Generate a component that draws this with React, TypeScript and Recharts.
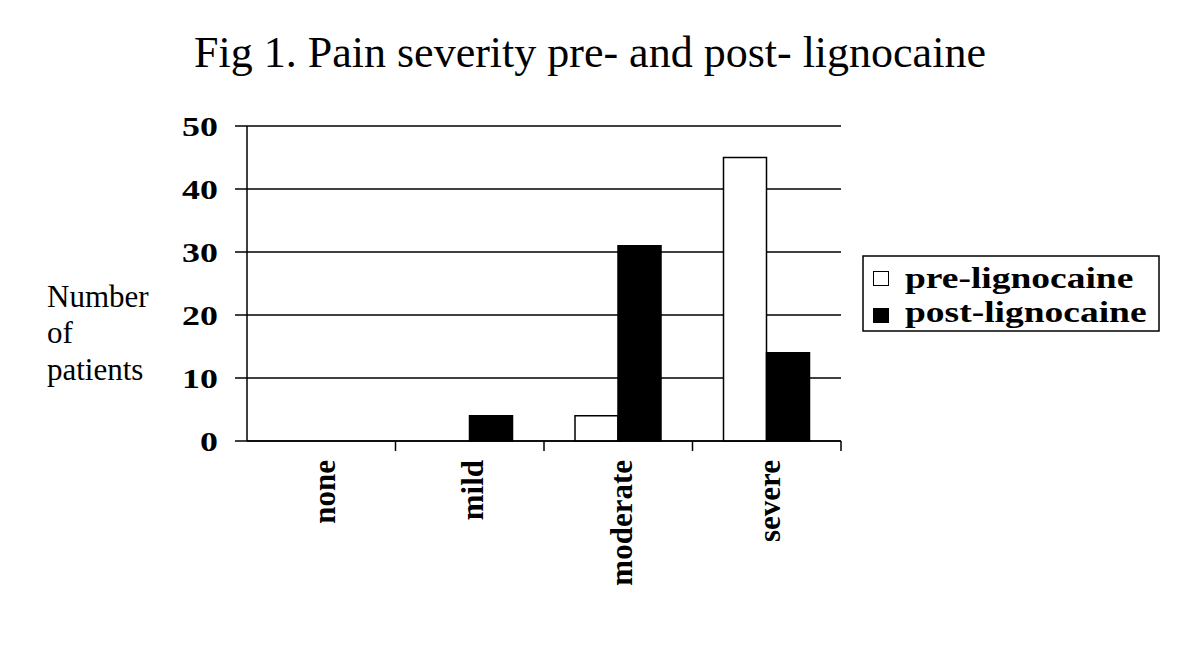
import { BarChart, Bar, XAxis, YAxis, CartesianGrid } from 'recharts';

// data
const categories = ['none', 'mild', 'moderate', 'severe'];
const preLignocaine = [0, 0, 4, 45];
const postLignocaine = [0, 4, 31, 14];
const yTicks = [0, 10, 20, 30, 40, 50];

const data = categories.map((name, i) => ({
  name,
  'pre-lignocaine': preLignocaine[i],
  'post-lignocaine': postLignocaine[i],
}));

const SERIF = '"Liberation Serif", "Times New Roman", serif';
const PLOT_LEFT = 247;
const PLOT_RIGHT = 841;
const BAND = (PLOT_RIGHT - PLOT_LEFT) / categories.length;

// y tick labels are stretched sideways in the original
const YTick = (props: any) => {
  const { x, y, payload } = props;
  return (
    <text
      transform={`translate(${x},${y + 1.5}) scale(1.33,1)`}
      textAnchor="end"
      dominantBaseline="central"
      fontFamily={SERIF}
      fontWeight="bold"
      fontSize={27}
      fill="#000"
    >
      {payload.value}
    </text>
  );
};

// tick marks sit between categories, labels rotated
const XTick = (props: any) => {
  const { x, y, payload } = props;
  const axisY = y - 19;
  return (
    <g>
      <line x1={x + BAND / 2} x2={x + BAND / 2} y1={axisY} y2={axisY + 10} stroke="#000" strokeWidth={1.5} />
      <text
        transform={`translate(${x + 3},${y}) rotate(-90)`}
        textAnchor="end"
        dominantBaseline="central"
        fontFamily={SERIF}
        fontWeight="bold"
        fontSize={31}
        fill="#000"
      >
        {payload.value}
      </text>
    </g>
  );
};

const legendItems = [
  { label: 'pre-lignocaine', fill: '#fff' },
  { label: 'post-lignocaine', fill: '#000' },
];

const LegendBox = () => (
  <svg width={298} height={77} style={{ position: 'absolute', left: 862, top: 255 }}>
    <rect x={1} y={1} width={296} height={75} fill="#fff" stroke="#000" strokeWidth={1.5} />
    {legendItems.map((it, i) => (
      <g key={it.label}>
        <rect x={11.5} y={16.5 + i * 37} width={15} height={14} fill={it.fill} stroke="#000" strokeWidth={1} />
        <text
          transform={`translate(43,${33 + i * 34}) scale(1.25,1)`}
          fontFamily={SERIF}
          fontWeight="bold"
          fontSize={30}
          fill="#000"
        >
          {it.label}
        </text>
      </g>
    ))}
  </svg>
);

export default function App() {
  return (
    <div style={{ position: 'absolute', left: 0, top: 0, width: 1200, height: 654, background: '#fff' }}>
      <BarChart
        width={1200}
        height={654}
        data={data}
        margin={{ top: 126, right: 359, bottom: 0, left: 0 }}
        barGap={0}
        barSize={43}
      >
        <CartesianGrid vertical={false} stroke="#000" strokeWidth={1.5} />
        <XAxis
          dataKey="name"
          height={213}
          axisLine={{ stroke: '#000', strokeWidth: 1.5 }}
          tickLine={false}
          tickSize={10}
          tickMargin={9}
          interval={0}
          tick={<XTick />}
        />
        <YAxis
          width={247}
          domain={[0, 50]}
          ticks={yTicks}
          interval={0}
          axisLine={{ stroke: '#000', strokeWidth: 1.5 }}
          tickLine={{ stroke: '#000', strokeWidth: 1.5 }}
          tickSize={12}
          tickMargin={17}
          tick={<YTick />}
        />
        <Bar dataKey="pre-lignocaine" fill="#fff" stroke="#000" strokeWidth={1.5} isAnimationActive={false} />
        <Bar dataKey="post-lignocaine" fill="#000" stroke="#000" strokeWidth={1.5} isAnimationActive={false} />
      </BarChart>
      <LegendBox />
      <svg width={1200} height={654} style={{ position: 'absolute', left: 0, top: 0, pointerEvents: 'none' }}>
        <text x={590} y={67} textAnchor="middle" fontFamily={SERIF} fontSize={44} fill="#000">
          Fig 1. Pain severity pre- and post- lignocaine
        </text>
        <text fontFamily={SERIF} fontSize={31} fill="#000">
          <tspan x={47} y={307}>Number</tspan>
          <tspan x={47} y={343}>of</tspan>
          <tspan x={47} y={380}>patients</tspan>
        </text>
      </svg>
    </div>
  );
}
